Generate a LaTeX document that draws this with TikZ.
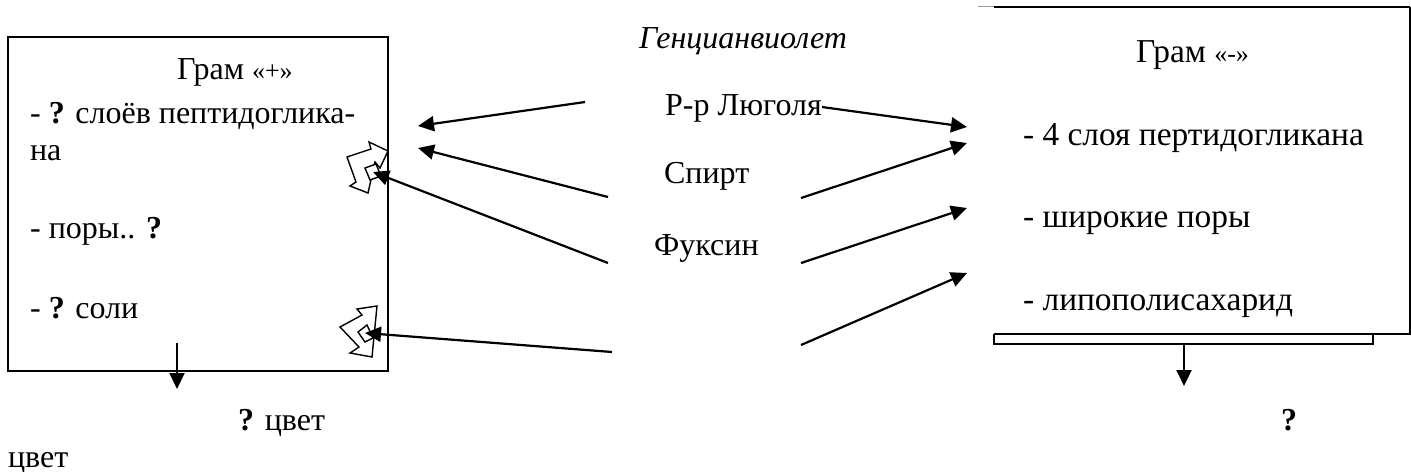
\documentclass[tikz,border=0pt]{standalone}
\usepackage{fontspec}
\setmainfont{Liberation Serif}
\usetikzlibrary{arrows.meta}

\newcommand{\gq}[1]{{\fontsize{13}{15}\selectfont «#1»}}

\begin{document}
\begin{tikzpicture}
  [x=0.5pt,y=-0.5pt,line width=1.1pt,
   every node/.style={inner sep=0pt,font=\fontsize{16}{19}\selectfont}]

  \tikzstyle{txt} = [anchor=base west]
  \tikzstyle{rtxt} = [anchor=base west,font=\fontsize{16.7}{19}\selectfont]
  \tikzstyle{arr} = [-{Triangle[length=8pt,width=7.5pt]}]
  \tikzstyle{twist} = [draw,fill=white,line width=0.7pt,line join=miter]

  \useasboundingbox (0,0) rectangle (1411,471);

  % Gram +
  \node[draw,minimum width=190pt,minimum height=167pt] (plusbox) at (198,204) {};
  \node[txt] (plus)   at (176,79)  {Грам \gq{+}};
  \node[txt] (layers) at (29,123)  {- \textbf{?} слоёв пептидоглика-};
  \node[txt] (na)     at (29,160)  {на};
  \node[txt] (pores)  at (29,238)  {- поры.. \textbf{?}};
  \node[txt] (salts)  at (29,318)  {- \textbf{?} соли};
  \node[txt] (colpos) at (237,430) {\textbf{?} цвет};
  \node[txt] (colrest) at (7,467)  {цвет};

  % reagents
  \node[txt] (gent)   at (638,48)  {\itshape Генцианвиолет};
  \node[txt] (lugol)  at (664,115) {Р-р Люголя};
  \node[txt] (spirit) at (663,183) {Спирт};
  \node[txt] (fuchs)  at (653,255) {Фуксин};

  % Gram -
  \draw[black!40,line width=0.5pt] (978,6) -- (994,6);
  \draw (994,7) -- (1410,7);
  \draw[line width=0.6pt] (1410,7) -- (1410,334) -- (994,334);
  \draw (994,334) -- (994,344) -- (1373,344) -- (1373,334);
  \node[rtxt] (minus)  at (1135,62)  {Грам \gq{-}};
  \node[rtxt] (four)   at (1022,145) {- 4 слоя пертидогликана};
  \node[rtxt] (wide)   at (1022,227) {- широкие поры};
  \node[rtxt] (lps)    at (1022,310) {- липополисахарид};
  \node[txt] (colneg) at (1280,430) {\textbf{?}};

  % twisted marks
  \draw[twist] (347,157) -- (371,149) -- (369,142) -- (388,151)
    -- (380,168) -- (375,162) -- (368,193) -- (350,186)
    -- (356,182) -- cycle;
  \draw[twist] (365,168) -- (376,164) -- (381,176) -- (370,180) -- cycle;
  \draw[twist] (340,327) -- (362,315) -- (357,309) -- (377,306)
    -- (372,357) -- (350,353) -- (359,347) -- cycle;
  \draw[twist] (358,332) -- (367,325) -- (373,338) -- (365,342) -- cycle;

  % arrow ends
  \coordinate (a1) at (585,102);  \coordinate (t1) at (418,126);
  \coordinate (a2) at (608,197);  \coordinate (t2) at (418,148);
  \coordinate (a3) at (608,263);  \coordinate (t3) at (373,172);
  \coordinate (a4) at (612,352);  \coordinate (t4) at (365,333);
  \coordinate (b1) at (822,107);  \coordinate (u1) at (967,127);
  \coordinate (b2) at (801,198);  \coordinate (u2) at (967,143);
  \coordinate (b3) at (801,263);  \coordinate (u3) at (967,208);
  \coordinate (b4) at (801,345);  \coordinate (u4) at (967,273);
  \coordinate (d1) at (177,343);  \coordinate (e1) at (177,389);
  \coordinate (d2) at (1184,344); \coordinate (e2) at (1184,386);

  \path[arr]
        (a1) edge (t1)
        (a2) edge (t2)
        (a3) edge (t3)
        (a4) edge (t4)
        (b1) edge (u1)
        (b2) edge (u2)
        (b3) edge (u3)
        (b4) edge (u4)
        (d1) edge (e1)
        (d2) edge (e2);
\end{tikzpicture}
\end{document}
